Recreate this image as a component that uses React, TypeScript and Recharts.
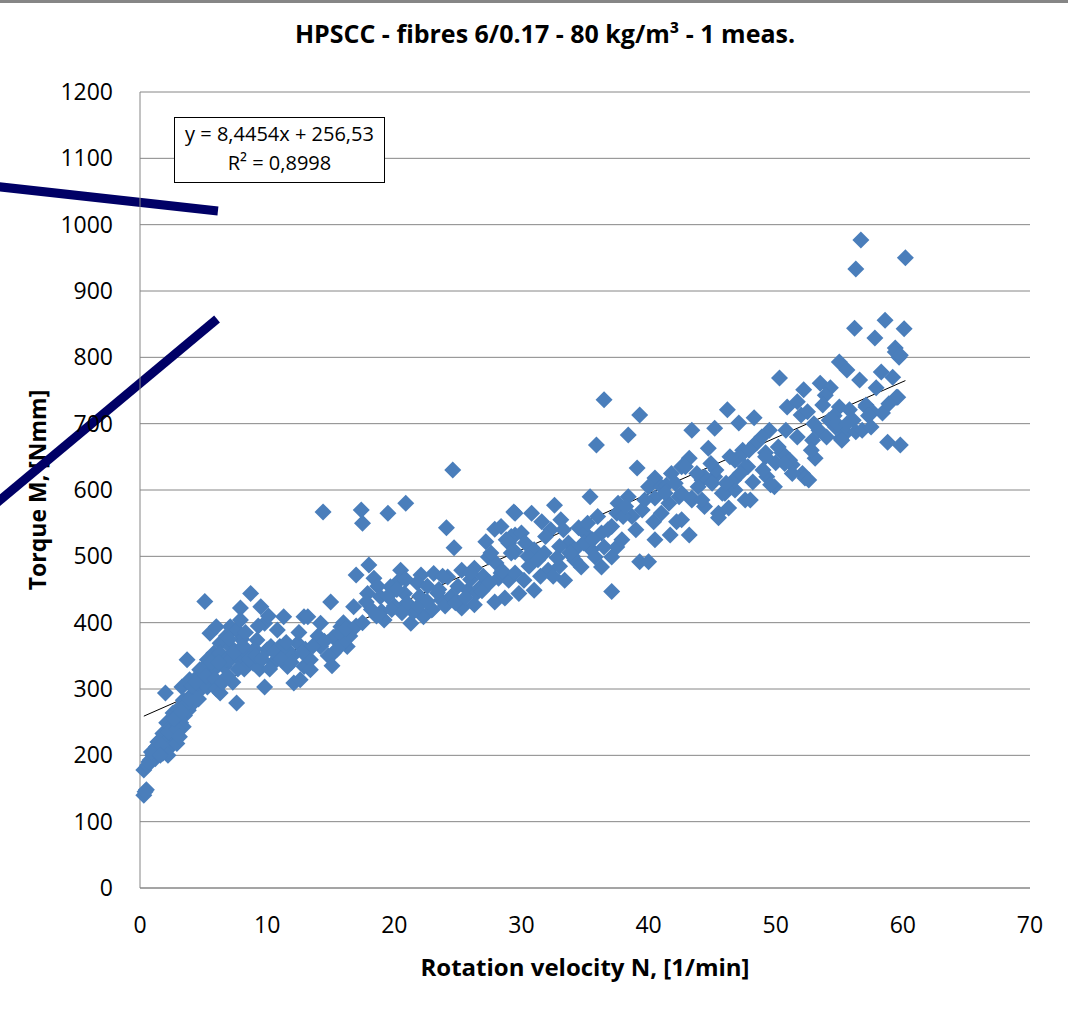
import React from 'react';
import { CartesianGrid, ReferenceLine, Scatter, ScatterChart, XAxis, YAxis } from 'recharts';

const CHART_W = 1068;
const CHART_H = 1017;
const FONT = '"Open Sans", "DejaVu Sans", sans-serif';
const GRID = '#868686';
const MARKER = '#4A7EBB';

const X_TICKS = [0, 10, 20, 30, 40, 50, 60, 70];
const Y_TICKS = [0, 100, 200, 300, 400, 500, 600, 700, 800, 900, 1000, 1100, 1200];

// linear trend reported by the spreadsheet
const TREND_SLOPE = 8.4454;
const TREND_INTERCEPT = 256.53;

// [rotation velocity N (1/min), torque M (Nmm)]
const startUp: [number, number][] = [
  [0.3, 140], [0.5, 148], [0.4, 145], [0.3, 178], [0.6, 185], [0.8, 193], [1.0, 200],
  [1.1, 203], [1.3, 213], [1.2, 195], [1.5, 205], [1.6, 223], [1.8, 233], [1.8, 203],
  [2.0, 210], [2.0, 294], [2.1, 249], [2.2, 225], [2.4, 244], [2.5, 215], [2.6, 264],
  [2.6, 230], [2.7, 241], [2.8, 252], [2.9, 218], [3.0, 270], [3.2, 249], [3.2, 259],
  [3.3, 303], [3.4, 283], [3.4, 243], [3.5, 260], [3.7, 344], [3.8, 268], [3.9, 314],
  [4.0, 290], [4.2, 279], [4.3, 300], [4.5, 318], [4.5, 294], [4.7, 329], [4.8, 305],
  [5.0, 310], [5.1, 432], [5.3, 344], [5.3, 303], [5.5, 384], [5.5, 320], [5.8, 329],
  [5.8, 354], [0.7, 190], [0.9, 205], [1.4, 220], [1.7, 215], [2.3, 235], [2.9, 240],
  [3.1, 228], [3.6, 275], [3.9, 285], [4.1, 305], [4.4, 310], [4.6, 285], [4.9, 330],
  [5.2, 320], [5.6, 340], [5.9, 315], [2.2, 200], [1.6, 200], [2.7, 255], [3.3, 265],
];

const lowSpeed: [number, number][] = [
  [6.0, 394], [6.0, 300], [6.3, 369], [6.3, 294], [6.3, 354], [6.6, 334], [6.8, 345],
  [7.1, 364], [7.1, 344], [7.1, 394], [7.3, 310], [7.6, 389], [7.6, 279], [7.9, 422],
  [7.9, 344], [7.9, 404], [8.2, 330], [8.4, 354], [8.7, 444], [8.9, 339], [9.2, 374],
  [9.5, 424], [9.8, 399], [9.8, 303], [10.0, 359], [10.3, 364], [10.5, 340], [10.8, 389],
  [11.0, 364], [11.3, 409], [11.6, 334], [11.8, 355], [12.1, 309], [12.4, 369], [12.9, 334],
  [12.9, 409], [12.6, 314], [13.2, 409], [14.2, 399], [15.8, 394], [16.6, 389], [15.2, 378],
  [16.3, 364], [15.2, 354], [14.2, 364], [13.4, 344], [13.4, 329], [15.0, 431], [14.4, 567],
  [16.8, 424], [16.0, 370], [16.5, 380], [15.5, 360], [14.8, 350], [14.0, 380], [13.0, 360],
  [12.0, 350], [11.5, 370], [12.5, 385], [16.0, 400], [15.1, 335], [9.0, 360], [8.0, 375],
  [6.8, 380], [10.8, 345], [9.4, 330], [6.5, 310], [6.9, 320], [7.4, 355], [7.7, 330],
  [8.1, 365], [8.6, 345], [9.1, 350], [9.6, 345], [10.2, 330], [10.6, 355], [11.1, 345],
  [11.9, 340], [12.8, 355], [13.6, 365], [14.5, 372], [15.7, 385], [16.2, 390], [6.2, 340],
  [7.0, 375], [8.3, 385], [9.3, 395], [10.1, 410],
];

const midSpeed: [number, number][] = [
  [17.0, 395], [17.4, 570], [17.5, 550], [19.5, 565], [20.9, 580], [24.1, 543], [24.7, 513],
  [24.6, 630], [17.0, 472], [18.0, 487], [18.4, 467], [20.5, 479], [20.4, 464], [22.1, 472],
  [23.1, 474], [24.2, 469], [25.3, 479], [26.3, 482], [17.9, 444], [18.9, 439], [19.7, 454],
  [20.8, 444], [19.2, 404], [21.3, 399], [22.3, 409], [22.9, 419], [23.7, 434], [25.3, 422],
  [26.3, 427], [25.8, 449], [26.8, 454], [28.2, 467], [29.0, 464], [27.9, 431], [28.7, 437],
  [19.0, 417], [17.8, 431], [21.5, 416], [27.2, 522], [27.9, 541], [27.4, 499], [29.0, 520],
  [29.5, 532], [29.4, 567], [29.5, 507], [18.2, 420], [20.0, 425], [21.0, 430], [22.0, 440],
  [23.0, 420], [24.0, 425], [24.5, 440], [25.0, 455], [26.0, 465], [27.0, 470], [28.0, 490],
  [26.5, 445], [23.5, 450], [21.8, 460], [20.2, 450], [19.5, 440], [32.6, 577], [29.5, 565],
  [30.8, 565], [31.6, 552], [33.1, 555], [28.4, 545], [29.2, 530], [30.0, 535], [32.3, 540],
  [34.5, 543], [35.0, 535], [33.7, 520], [31.0, 510], [31.8, 505], [33.0, 515], [34.2, 510],
  [35.5, 510], [36.5, 514], [35.8, 499], [29.2, 505], [30.5, 500], [28.4, 475], [29.5, 475],
  [30.2, 464], [32.1, 479], [33.4, 464], [31.0, 449], [29.8, 444], [32.5, 470], [33.0, 485],
  [34.2, 494], [34.7, 484], [36.3, 484], [37.1, 499], [37.5, 514], [35.4, 590], [35.9, 668],
  [36.5, 736], [37.6, 580], [37.5, 565], [37.1, 545], [36.3, 535], [37.9, 525], [37.1, 447],
  [31.5, 470], [34.0, 500], [17.5, 400], [18.6, 410], [19.8, 420], [20.6, 415], [21.9, 425],
  [22.6, 432], [23.4, 445], [24.8, 430], [25.6, 438], [26.9, 448], [27.5, 460], [28.5, 478],
  [30.6, 485], [31.3, 495], [32.8, 498], [33.8, 505], [34.9, 520], [35.6, 525], [36.8, 540],
  [18.7, 455], [20.9, 465], [22.6, 455], [23.8, 470], [26.0, 475], [27.6, 505], [28.8, 525],
  [30.3, 520], [31.9, 530], [33.3, 540], [35.2, 550], [36.0, 560],
];

const highSpeed: [number, number][] = [
  [39.3, 713], [38.4, 683], [43.4, 690], [45.2, 693], [44.7, 663], [39.1, 633], [43.2, 648],
  [42.6, 635], [41.8, 625], [40.5, 618], [40.0, 605], [41.0, 605], [44.2, 615], [45.2, 620],
  [38.4, 590], [39.5, 570], [40.5, 588], [41.6, 580], [42.4, 590], [43.4, 585], [44.4, 575],
  [45.5, 565], [38.7, 560], [40.4, 552], [42.2, 552], [41.7, 532], [43.2, 532], [40.5, 525],
  [39.3, 492], [40.0, 492], [38.0, 560], [39.0, 540], [41.0, 565], [42.9, 635], [45.3, 630],
  [44.4, 620], [43.9, 605], [42.6, 595], [43.4, 588], [45.5, 558], [42.6, 555], [46.0, 595],
  [46.3, 573], [46.8, 600], [45.0, 610], [41.4, 607], [56.7, 977], [56.3, 933], [60.2, 950],
  [56.2, 844], [58.6, 856], [60.1, 843], [57.8, 829], [59.4, 814], [59.7, 800], [59.4, 808],
  [55.0, 793], [55.6, 781], [50.3, 769], [56.6, 766], [58.3, 778], [59.2, 770], [53.5, 761],
  [54.3, 754], [57.9, 754], [52.2, 751], [59.6, 740], [53.9, 743], [50.9, 725], [51.7, 733],
  [46.2, 721], [53.7, 728], [55.0, 725], [55.8, 721], [57.1, 728], [57.6, 718], [58.4, 716],
  [48.3, 709], [47.1, 701], [52.0, 713], [52.5, 718], [49.5, 690], [50.8, 690], [54.2, 705],
  [54.7, 695], [55.5, 686], [56.3, 688], [56.8, 690], [57.5, 695], [55.1, 678], [58.8, 672],
  [59.8, 668], [52.9, 675], [47.4, 660], [48.5, 671], [49.2, 656], [50.5, 656], [51.1, 645],
  [50.0, 641], [52.1, 625], [53.1, 648], [46.8, 645], [47.8, 635], [48.2, 612], [49.3, 620],
  [49.9, 605], [52.3, 618], [46.7, 615], [45.8, 595], [44.2, 585], [47.6, 585], [47.6, 635],
  [47.4, 655], [48.4, 670], [49.2, 650], [49.6, 608], [51.3, 638], [51.3, 625], [52.6, 615],
  [55.2, 675], [48.0, 585], [59.8, 803], [57.1, 725], [59.5, 740], [53.0, 700], [54.6, 712],
  [38.2, 575], [39.7, 585], [41.3, 595], [42.1, 610], [43.8, 625], [44.9, 640], [46.4, 650],
  [47.9, 660], [48.9, 680], [50.2, 665], [51.7, 680], [53.4, 690], [54.8, 700], [56.1, 705],
  [57.3, 712], [58.9, 730], [46.1, 610], [47.2, 625], [49.0, 630], [50.7, 640], [52.8, 660],
  [54.0, 680], [55.6, 700],
];

// two thick navy strokes lying over the slide, in data units
const upperStroke = [{ x: -11.5, y: 1058 }, { x: 6.13, y: 1020.6 }];
const lowerStroke = [{ x: -11.5, y: 577 }, { x: 6.06, y: 857.8 }];

const measurements = [...startUp, ...lowSpeed, ...midSpeed, ...highSpeed].map(([x, y]) => ({ x, y }));
const xs = measurements.map((p) => p.x);
const trendFrom = Math.min(...xs);
const trendTo = Math.max(...xs);
const trendSegment = [
  { x: trendFrom, y: TREND_SLOPE * trendFrom + TREND_INTERCEPT },
  { x: trendTo, y: TREND_SLOPE * trendTo + TREND_INTERCEPT },
];

const Diamond = (props: any) => {
  const { cx, cy } = props;
  const r = 8.5;
  return (
    <polygon
      points={`${cx},${cy - r} ${cx + r},${cy} ${cx},${cy + r} ${cx - r},${cy}`}
      fill={MARKER}
    />
  );
};

const tickStyle = { fill: '#000', fontSize: 23, fontFamily: FONT };

export default function App() {
  return (
    <div style={{ position: 'absolute', left: 0, top: 0, width: CHART_W, height: CHART_H, background: '#fff', fontFamily: FONT }}>
      <div style={{ position: 'absolute', left: 0, top: 0, width: CHART_W, height: 3, background: GRID }} />
      <div
        style={{
          position: 'absolute', left: 0, top: 18, width: 1090, textAlign: 'center',
          fontSize: 25, lineHeight: '30px', fontWeight: 700, color: '#000',
        }}
      >
        HPSCC - fibres 6/0.17 - 80 kg/m³ - 1 meas.
      </div>
      <div
        style={{
          position: 'absolute', left: 285, top: 953, width: 600, textAlign: 'center',
          fontSize: 24, lineHeight: '28px', fontWeight: 700, color: '#000',
        }}
      >
        Rotation velocity N, [1/min]
      </div>
      <div
        style={{
          position: 'absolute', left: 37 - 150, top: 490 - 14, width: 300, textAlign: 'center',
          fontSize: 23, lineHeight: '28px', fontWeight: 700, color: '#000',
          transform: 'rotate(-90deg)',
        }}
      >
        Torque M, [Nmm]
      </div>

      <div style={{ position: 'absolute', left: 0, top: 0 }}>
        <ScatterChart width={CHART_W} height={CHART_H} margin={{ top: 92, right: 38, bottom: 0, left: 0 }}>
          <CartesianGrid vertical={false} stroke={GRID} strokeWidth={1} />
          <XAxis
            type="number"
            dataKey="x"
            domain={[0, 70]}
            ticks={X_TICKS}
            height={129}
            tickLine={false}
            tickMargin={23}
            axisLine={{ stroke: GRID }}
            tick={tickStyle}
          />
          <YAxis
            type="number"
            dataKey="y"
            domain={[0, 1200]}
            ticks={Y_TICKS}
            width={140}
            tickLine={false}
            tickMargin={21}
            axisLine={{ stroke: GRID }}
            tick={tickStyle}
          />
          <Scatter data={measurements} shape={<Diamond />} isAnimationActive={false} />
          <ReferenceLine segment={trendSegment} stroke="#000" strokeWidth={1} ifOverflow="visible" />
          <ReferenceLine segment={upperStroke} stroke="#000066" strokeWidth={9} ifOverflow="visible" />
          <ReferenceLine segment={lowerStroke} stroke="#000066" strokeWidth={9} ifOverflow="visible" />
        </ScatterChart>
      </div>

      <div
        style={{
          position: 'absolute', left: 174, top: 117, width: 211, height: 66, boxSizing: 'border-box',
          border: '1px solid #000', background: '#fff', textAlign: 'center',
          fontSize: 20, lineHeight: '29px', paddingTop: 1, color: '#000', whiteSpace: 'nowrap',
        }}
      >
        <div>y = 8,4454x + 256,53</div>
        <div>R² = 0,8998</div>
      </div>
    </div>
  );
}
